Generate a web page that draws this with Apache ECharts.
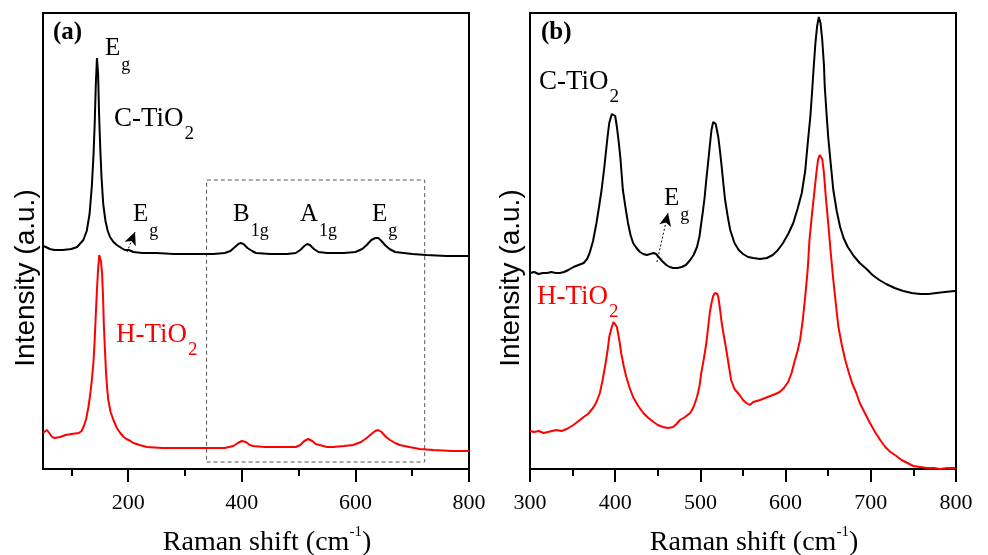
<!DOCTYPE html>
<html lang="en">
<head>
    <meta charset="UTF-8">
    <title>Raman spectra</title>
    <style>
        html, body { margin: 0; padding: 0; background: #fff; }
    </style>
</head>
<body>
<div id="main" style="width: 988px;height:555px;"></div>
<script src="https://cdn.jsdelivr.net/npm/echarts@6/dist/echarts.min.js"></script>
<script type="text/javascript">
    // panel (a): full range spectra  [Raman shift, intensity]
    var cTiO2A = [
        [50,223],[55,222],[62,220],[70,219],[85,219],[100,220],[110,222],[121,229],[127,238],[132,255],
        [136,283],[139,315],[141,345],[143,385],[145,411],[147,395],[149,350],[151,318],[153,292],[156,265],
        [160,248],[164,238],[168,232],[174,227],[180,224],[188,221],[194,219],[197,221],[201,219],[209,217],
        [225,216],[250,216],[280,215],[320,215],[350,215],[370,216],[380,218],[388,222],[394,225],[398,226],
        [403,225],[410,221],[418,218],[425,216],[450,215],[480,215],[495,216],[503,219],[510,223],[515,225],
        [520,224],[527,220],[535,217],[550,216],[580,216],[600,217],[612,220],[620,224],[628,229],[635,231],
        [640,231],[646,228],[652,224],[660,220],[670,217],[685,216],[700,215],[725,214],[760,213],[800,213]
    ];
    var hTiO2A = [
        [50,36],[53,38],[57,39],[61,36],[66,32],[71,31],[80,32],[90,34],[100,35],[113,36],
        [118,38],[122,43],[126,50],[130,62],[133,74],[136,89],[139,108],[141,129],[143,155],[145,179],
        [147,200],[149,214],[150,216],[152,208],[154,196],[156,168],[157,146],[159,120],[161,96],[163,80],
        [165,69],[169,57],[174,49],[180,41],[186,36],[192,32],[197,30],[200,30],[204,28],[209,26],
        [220,24],[233,22],[260,21],[300,21],[340,21],[370,21],[385,23],[393,26],[400,28],[407,27],
        [414,24],[420,23],[440,22],[470,22],[495,22],[503,24],[510,28],[517,30],[524,28],[530,25],
        [537,24],[550,22],[561,22],[580,23],[596,24],[610,27],[620,31],[628,35],[635,38],[640,39],
        [646,37],[654,32],[661,29],[670,26],[678,24],[695,22],[713,20],[737,19],[770,18],[800,18]
    ];
    // panel (b): 300-800 cm-1 zoom
    var cTiO2B = [
        [300,196],[305,197],[310,195],[315,196],[320,196],[325,197],[330,196],[335,196],[340,197],[345,199],
        [351,202],[357,204],[363,206],[367,210],[370,216],[374,228],[378,246],[381,262],[384,279],[387,300],
        [389,316],[391,332],[393,346],[396,355],[398,357],[400,353],[402,342],[404,328],[406,312],[409,279],
        [412,262],[415,246],[418,234],[421,226],[425,221],[429,217],[433,215],[437,214],[441,215],[445,216],
        [448,215],[451,212],[455,208],[460,204],[464,202],[468,201],[473,201],[478,202],[483,204],[488,209],
        [492,214],[496,222],[499,233],[501,246],[503,258],[505,272],[507,290],[509,306],[511,323],[513,339],
        [515,347],[516,348],[518,345],[521,332],[523,318],[525,302],[527,285],[529,269],[532,253],[535,239],
        [540,226],[545,219],[550,215],[556,212],[562,211],[570,210],[578,211],[585,214],[591,219],[597,226],
        [603,235],[609,246],[614,260],[619,276],[623,298],[626,326],[629,352],[631,376],[633,402],[635,426],
        [637,443],[639,452],[641,446],[643,429],[645,404],[646,382],[648,356],[650,332],[653,305],[656,279],
        [660,258],[664,242],[668,231],[673,222],[680,213],[687,206],[695,200],[702,194],[710,189],[718,185],
        [728,181],[738,178],[748,176],[758,175],[768,175],[777,176],[787,177],[798,178],[800,178]
    ];
    var hTiO2B = [
        [300,38],[305,37],[310,38],[316,36],[321,37],[326,38],[331,39],[337,38],[343,40],[347,42],
        [351,44],[357,48],[363,52],[368,55],[374,61],[378,67],[382,76],[385,88],[388,102],[391,118],
        [393,132],[396,142],[398,147],[400,146],[402,142],[405,128],[407,116],[410,103],[413,92],[417,81],
        [421,72],[427,63],[433,56],[439,51],[445,47],[450,44],[456,42],[462,41],[468,42],[472,45],
        [476,49],[482,52],[488,56],[492,62],[496,72],[499,83],[501,96],[504,110],[507,126],[509,141],
        [511,156],[513,166],[515,173],[517,176],[520,175],[521,172],[523,160],[525,146],[528,131],[531,116],
        [534,100],[536,89],[540,80],[546,74],[550,69],[554,66],[558,64],[562,67],[566,68],[570,69],
        [576,71],[582,73],[588,75],[593,77],[598,81],[603,87],[607,96],[611,109],[614,118],[617,129],
        [620,148],[623,172],[626,200],[628,229],[631,255],[634,279],[636,295],[638,309],[640,314],[642,316],
        [643,310],[645,296],[647,274],[650,246],[653,216],[656,189],[659,165],[662,142],[666,124],[670,109],
        [674,97],[678,86],[683,76],[687,66],[693,56],[699,46],[705,37],[711,29],[717,22],[723,17],
        [730,13],[736,9],[743,6],[750,3],[758,2],[766,1],[774,1],[781,0],[790,1],[798,1],[800,0]
    ];

    // tick positions
    var majorTicksA = [200, 400, 600, 800];
    var minorTicksA = [100, 300, 500, 700];

    // dashed box (a) and the two arrows, in data units
    var boxA = [[338, 7], [722, 289]];
    var arrowA = [[198, 217], [212, 237]];
    var arrowB = [[449, 207], [462, 256]];

    var SERIF = '"Liberation Serif", "Times New Roman", serif';
    var SANS = '"Liberation Sans", Arial, sans-serif';
    var RED = '#ff0000';

    var myChart = echarts.init(document.getElementById("main"));

    function xName() {
        return {
            name: '{t|Raman shift (cm}{s|-1}{t|)}',
            nameLocation: 'middle',
            nameGap: 56,
            nameTextStyle: {
                padding: [0, 0, 0, 22],
                rich: {
                    t: {fontFamily: SERIF, fontSize: 28, color: '#000', lineHeight: 32, verticalAlign: 'bottom'},
                    s: {fontFamily: SERIF, fontSize: 15, color: '#000', lineHeight: 15, verticalAlign: 'top'}
                }
            }
        };
    }

    function subText(x, y, main, sub, color, size) {
        size = size || 26;
        return {
            type: 'text',
            x: x,
            y: y,
            style: {
                text: '{m|' + main + '}{s|' + sub + '}',
                align: 'left',
                verticalAlign: 'middle',
                fill: color,
                rich: {
                    m: {fontFamily: SERIF, fontSize: size, fill: color, lineHeight: 30, verticalAlign: 'top'},
                    s: {fontFamily: SERIF, fontSize: Math.round(size * 0.7), fill: color, lineHeight: 18,
                        verticalAlign: 'top', padding: [20, 0, 0, 1]}
                }
            }
        };
    }

    function yTitle(x) {
        return {
            type: 'text', x: x, y: 278, rotation: Math.PI / 2,
            style: {text: 'Intensity (a.u.)', font: '28px ' + SANS, fill: '#000', align: 'center', verticalAlign: 'middle'}
        };
    }

    var axisLineStyle = {color: '#000', width: 2};

    var option = {
        animation: false,
        grid: [
            {left: 43, right: 519, top: 13, bottom: 86, outerBoundsMode: 'none', show: true, borderColor: '#000', borderWidth: 2},
            {left: 530, right: 32, top: 13, bottom: 86, outerBoundsMode: 'none', show: true, borderColor: '#000', borderWidth: 2}
        ],
        xAxis: [
            Object.assign({
                type: 'value', gridIndex: 0, min: 50, max: 800,
                axisLine: {show: true, onZero: false, lineStyle: axisLineStyle},
                axisTick: {show: true, length: 13, lineStyle: axisLineStyle, customValues: majorTicksA},
                axisLabel: {show: true, margin: 23, fontFamily: SERIF, fontSize: 22, color: '#000', customValues: majorTicksA},
                splitLine: {show: false}
            }, xName()),
            {
                type: 'value', gridIndex: 0, min: 50, max: 800, position: 'bottom',
                axisLine: {show: false},
                axisTick: {show: true, length: 7, lineStyle: axisLineStyle, customValues: minorTicksA},
                axisLabel: {show: false},
                splitLine: {show: false}
            },
            Object.assign({
                type: 'value', gridIndex: 1, min: 300, max: 800, interval: 100,
                axisLine: {show: true, onZero: false, lineStyle: axisLineStyle},
                axisTick: {show: true, length: 13, lineStyle: axisLineStyle},
                minorTick: {show: true, splitNumber: 2, length: 7, lineStyle: axisLineStyle},
                axisLabel: {show: true, margin: 23, fontFamily: SERIF, fontSize: 22, color: '#000'},
                splitLine: {show: false}
            }, xName())
        ],
        yAxis: [
            {
                type: 'value', gridIndex: 0, min: 0, max: 456,
                axisLine: {show: true, lineStyle: axisLineStyle},
                axisTick: {show: false}, axisLabel: {show: false}, splitLine: {show: false}
            },
            {
                type: 'value', gridIndex: 1, min: 0, max: 456,
                axisLine: {show: true, lineStyle: axisLineStyle},
                axisTick: {show: false}, axisLabel: {show: false}, splitLine: {show: false}
            }
        ],
        series: [
            {
                name: 'C-TiO2', type: 'line', xAxisIndex: 0, yAxisIndex: 0,
                data: cTiO2A, showSymbol: false, lineStyle: {color: '#000', width: 2},
                markArea: {
                    silent: true,
                    itemStyle: {color: 'rgba(0,0,0,0)', borderColor: '#555', borderWidth: 1, borderType: [4, 3]},
                    label: {show: false},
                    data: [[{coord: boxA[0]}, {coord: boxA[1]}]]
                },
                markLine: {
                    silent: true,
                    symbol: ['none', 'arrow'],
                    symbolSize: [9, 13],
                    label: {show: false},
                    lineStyle: {color: '#000', width: 1, type: [2, 2]},
                    data: [[{coord: arrowA[0]}, {coord: arrowA[1]}]]
                }
            },
            {
                name: 'H-TiO2', type: 'line', xAxisIndex: 0, yAxisIndex: 0,
                data: hTiO2A, showSymbol: false, lineStyle: {color: RED, width: 2}
            },
            {
                name: 'C-TiO2', type: 'line', xAxisIndex: 2, yAxisIndex: 1,
                data: cTiO2B, showSymbol: false, lineStyle: {color: '#000', width: 2},
                markLine: {
                    silent: true,
                    symbol: ['none', 'arrow'],
                    symbolSize: [9, 13],
                    label: {show: false},
                    lineStyle: {color: '#000', width: 1, type: [2, 2]},
                    data: [[{coord: arrowB[0]}, {coord: arrowB[1]}]]
                }
            },
            {
                name: 'H-TiO2', type: 'line', xAxisIndex: 2, yAxisIndex: 1,
                data: hTiO2B, showSymbol: false, lineStyle: {color: RED, width: 2}
            }
        ],
        graphic: [
            yTitle(26),
            yTitle(511),
            {type: 'text', x: 53, y: 33, style: {text: '(a)', font: 'bold 25px ' + SERIF, fill: '#000', align: 'left', verticalAlign: 'middle'}},
            {type: 'text', x: 541, y: 33, style: {text: '(b)', font: 'bold 25px ' + SERIF, fill: '#000', align: 'left', verticalAlign: 'middle'}},
            subText(105, 51, 'E', 'g', '#000', 25),
            subText(114, 120, 'C-TiO', '2', '#000', 27),
            subText(133, 217, 'E', 'g', '#000', 25),
            subText(233, 217, 'B', '1g', '#000', 25),
            subText(300, 217, 'A', '1g', '#000', 25),
            subText(372, 217, 'E', 'g', '#000', 25),
            subText(116, 336, 'H-TiO', '2', RED, 27),
            subText(539, 83, 'C-TiO', '2', '#000', 27),
            subText(664, 201, 'E', 'g', '#000', 25),
            subText(537, 298, 'H-TiO', '2', RED, 27)
        ]
    };

    myChart.setOption(option);
</script>
</body>
</html>
